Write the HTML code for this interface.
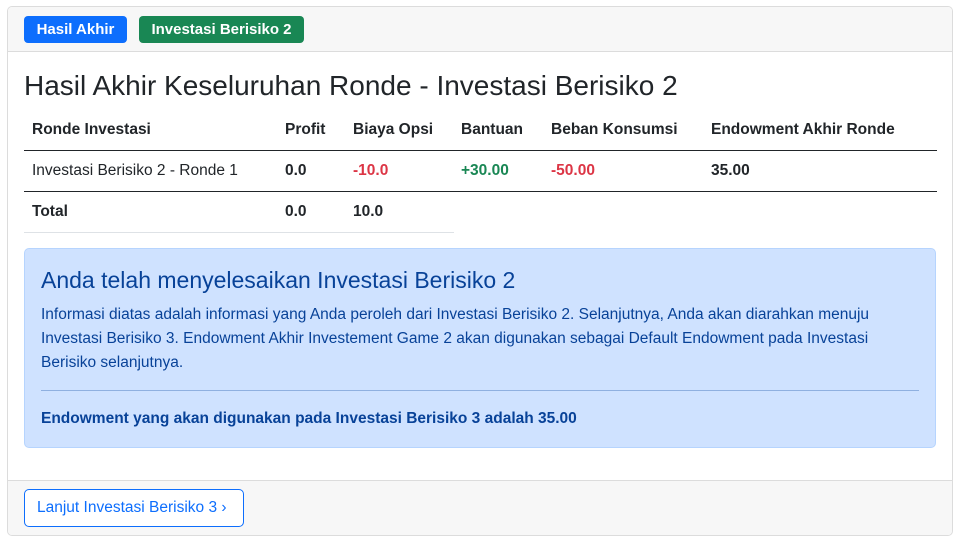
<!DOCTYPE html>
<html><head><meta charset="utf-8"><style>
*{box-sizing:border-box;margin:0;padding:0}
body{width:961px;height:542px;background:#fff;font-family:"Liberation Sans",sans-serif;color:#212529;position:relative;overflow:hidden}
.card{position:absolute;left:7px;top:6px;width:946px;height:530px;border:1px solid #dcdcdc;border-radius:5px;overflow:hidden}
.hdr{position:absolute;left:0;top:0;width:100%;height:45px;background:#f7f7f7;border-bottom:1px solid #dcdcdc}
.badge{position:absolute;top:9px;height:27px;border-radius:4px;color:#fff;font-weight:bold;font-size:15px;line-height:27px;text-align:center}
h1{position:absolute;left:16px;top:63px;font-size:28px;font-weight:normal;white-space:nowrap}
.t{position:absolute;font-size:15.5px;white-space:nowrap}
.b{font-weight:bold}
.line{position:absolute;height:1px}
.alert{position:absolute;left:16px;top:241px;width:912px;height:200px;background:#cfe2ff;border:1px solid #b6d4fe;border-radius:5px;color:#084298}
.ftr{position:absolute;left:0;top:473px;width:100%;height:57px;background:#f7f7f7;border-top:1px solid #dcdcdc}
.btn{position:absolute;left:16px;top:8px;width:220px;height:38px;border:1px solid #0d6efd;border-radius:5px;color:#0d6efd;font-size:15.5px;line-height:36px;padding-left:12px;background:#fff}
</style></head><body>
<div class="card">
<div class="hdr">
<div class="badge" style="left:16px;width:103px;background:#0d6efd">Hasil Akhir</div>
<div class="badge" style="left:131px;width:165px;background:#198754">Investasi Berisiko 2</div>
</div>
<h1>Hasil Akhir Keseluruhan Ronde - Investasi Berisiko 2</h1>
<div>
<div class="t b" style="left:24px;top:114px">Ronde Investasi</div>
<div class="t b" style="left:277px;top:114px">Profit</div>
<div class="t b" style="left:345px;top:114px">Biaya Opsi</div>
<div class="t b" style="left:453px;top:114px">Bantuan</div>
<div class="t b" style="left:543px;top:114px">Beban Konsumsi</div>
<div class="t b" style="left:703px;top:114px">Endowment Akhir Ronde</div>
<div class="line" style="left:16px;top:143px;width:913px;background:#212529"></div>
<div class="t" style="left:24px;top:155px">Investasi Berisiko 2 - Ronde 1</div>
<div class="t b" style="left:277px;top:155px">0.0</div>
<div class="t b" style="left:345px;top:155px;color:#dc3545">-10.0</div>
<div class="t b" style="left:453px;top:155px;color:#198754">+30.00</div>
<div class="t b" style="left:543px;top:155px;color:#dc3545">-50.00</div>
<div class="t b" style="left:703px;top:155px">35.00</div>
<div class="line" style="left:16px;top:184px;width:913px;background:#212529"></div>
<div class="t b" style="left:24px;top:196px">Total</div>
<div class="t b" style="left:277px;top:196px">0.0</div>
<div class="t b" style="left:345px;top:196px">10.0</div>
<div class="line" style="left:16px;top:225px;width:430px;background:#dee2e6"></div>
</div>
<div class="alert">
<div style="position:absolute;left:16px;top:18px;font-size:23px;white-space:nowrap">Anda telah menyelesaikan Investasi Berisiko 2</div>
<div style="position:absolute;left:16px;top:54px;width:890px;font-size:15.5px;line-height:24px;white-space:nowrap">Informasi diatas adalah informasi yang Anda peroleh dari Investasi Berisiko 2. Selanjutnya, Anda akan diarahkan menuju<br>Investasi Berisiko 3. Endowment Akhir Investement Game 2 akan digunakan sebagai Default Endowment pada Investasi<br>Berisiko selanjutnya.</div>
<div style="position:absolute;left:16px;top:141px;width:878px;height:1px;background:#8fb0e0"></div>
<div style="position:absolute;left:16px;top:161px;font-size:15.5px;font-weight:bold;white-space:nowrap">Endowment yang akan digunakan pada Investasi Berisiko 3 adalah 35.00</div>
</div>
<div class="ftr">
<div class="btn">Lanjut Investasi Berisiko 3 &#x203A;</div>
</div>
</div>
</body></html>
